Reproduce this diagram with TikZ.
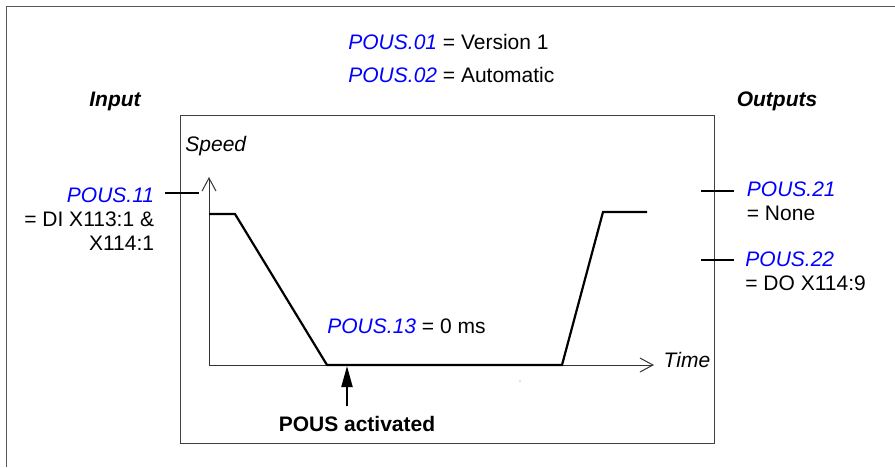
\documentclass[tikz,border=0pt]{standalone}
\usepackage{fontspec}
\setmainfont{Liberation Sans}
\usetikzlibrary{arrows.meta,positioning}
\newcommand{\pn}[1]{\textcolor{blue}{\textit{#1}}}
\tikzset{
  lab/.style={inner sep=0pt,font=\fontsize{10.5}{12}\selectfont},
  head/.style={inner sep=0pt,font=\fontsize{10.5}{12}\selectfont\bfseries\itshape},
  frame/.style={draw=black!65,line width=0.5pt},
  axis/.style={draw=black!80,line width=0.5pt,-{Straight Barb[length=6.5pt,width=7pt]}},
  curve/.style={line width=1.1pt,line join=miter},
  term/.style={line width=1.1pt},
  arr/.style={line width=1pt,-{Triangle[length=10.5pt,width=5.5pt]}},
}
\begin{document}
\begin{tikzpicture}[x=0.5pt,y=-0.5pt]
  \useasboundingbox (0,0) rectangle (895,467);
  % frames
  \draw[frame] (6,467) |- (895,6.5);
  \draw[frame,draw=black!75] (180,115) rectangle (714,443);
  % parameters
  \node[lab,anchor=base west] (p01) at (348,49) {\pn{POUS.01} = Version 1};
  \node[lab,anchor=base west] (p02) at (348,82) {\pn{POUS.02} = Automatic};
  \node[head,anchor=base] (inp) at (115,106) {Input};
  \node[head,anchor=base] (outp) at (777,106) {Outputs};
  \node[lab,anchor=base east,align=right] (p11) at (154.5,250) {\pn{POUS.11}\\= DI X113:1 \&\\X114:1};
  \node[lab,anchor=base west,align=left] (p21) at (746.5,220) {\pn{POUS.21}\\= None};
  \node[lab,anchor=base west,align=left] (p22) at (745,290) {\pn{POUS.22}\\= DO X114:9};
  \node[lab,anchor=base west] (p13) at (327,333) {\pn{POUS.13} = 0 ms};
  % axes
  \coordinate (o) at (209,365);
  \coordinate (ytop) at (209,177);
  \coordinate (xend) at (654,365);
  \draw[axis] (o) -- (ytop);
  \draw[axis] (o) -- (xend);
  \node[lab,anchor=base west] (spd) at (185,151.7) {\textit{Speed}};
  \node[lab,anchor=base west] (tim) at (663.3,367.7) {\textit{Time}};
  % speed curve
  \coordinate (c1) at (209,214);
  \coordinate (c2) at (235,214);
  \coordinate (c3) at (327,365);
  \coordinate (c4) at (562,365);
  \coordinate (c5) at (603,212);
  \coordinate (c6) at (647,212);
  \draw[curve] (c1) -- (c2) -- (c3) -- (c4) -- (c5) -- (c6);
  \fill[black!50] (520,381) circle (0.7);
  % terminals
  \coordinate (t11a) at (165,192.7);
  \coordinate (t11b) at (199,192.7);
  \coordinate (t21a) at (701,191.3);
  \coordinate (t21b) at (734,191.3);
  \coordinate (t22a) at (701,260.3);
  \coordinate (t22b) at (734,260.3);
  \draw[term] (t11a) -- (t11b);
  \draw[term] (t21a) -- (t21b);
  \draw[term] (t22a) -- (t22b);
  % activation
  \node[lab,anchor=base,font=\fontsize{10.5}{12}\selectfont\bfseries] (act) at (357,431) {POUS activated};
  \coordinate (trig) at (347,366);
  \draw[arr,shorten <=4.5pt] (act.north -| trig) -- (trig);
\end{tikzpicture}
\end{document}
